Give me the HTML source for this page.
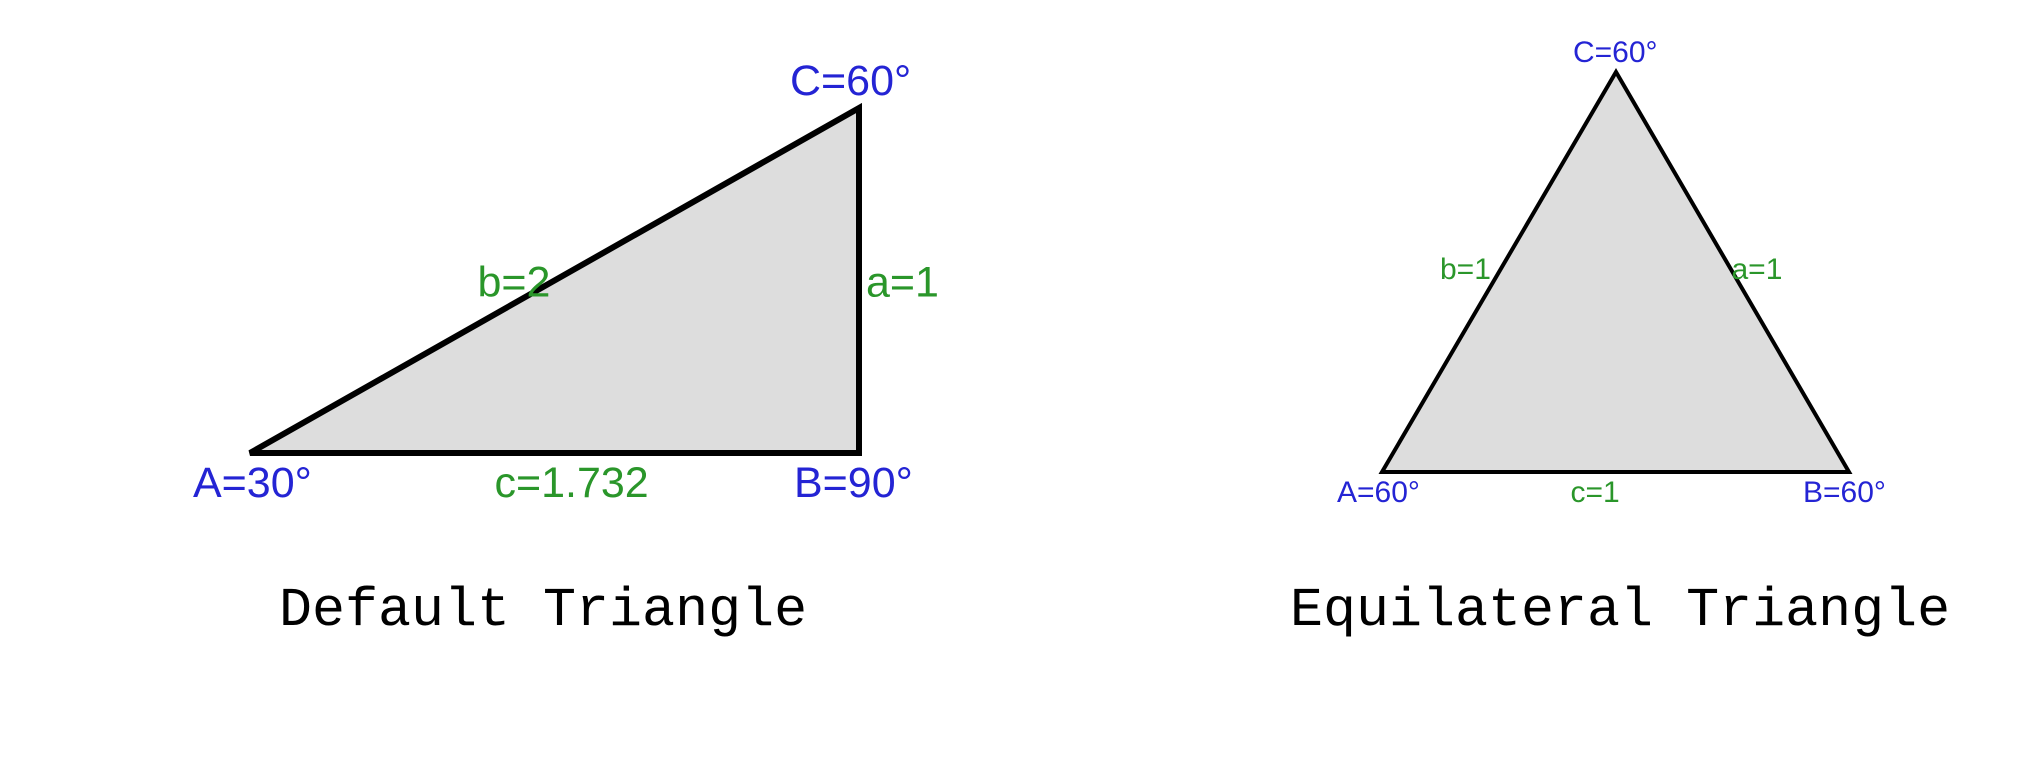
<!DOCTYPE html>
<html><head><meta charset="utf-8"><style>
html,body{margin:0;padding:0;background:#fff;}
svg{display:block;}
</style></head><body>
<svg id="chart" width="2041" height="764" xmlns="http://www.w3.org/2000/svg"></svg>
<script>
// Default triangle vertices (A, B, C) in pixels
const defaultVertices = [[250,453],[859,453],[859,108]];
const defaultAngleLabels = ["A=30°","B=90°","C=60°"];
const defaultSideLabels = ["a=1","b=2","c=1.732"];
// Equilateral triangle vertices (A, B, C)
const equiVertices = [[1382,472],[1849,472],[1616,72]];
const equiAngleLabels = ["A=60°","B=60°","C=60°"];
const equiSideLabels = ["a=1","b=1","c=1"];
const titles = ["Default Triangle","Equilateral Triangle"];

const NS="http://www.w3.org/2000/svg";
const svg=document.getElementById('chart');
function mk(tag,attrs){const e=document.createElementNS(NS,tag);for(const k in attrs)e.setAttribute(k,attrs[k]);svg.appendChild(e);return e;}
function txt(x,y,s,size,fill,family,name){
  const t=mk('text',{x:x,y:y,'font-size':size,fill:fill,'font-family':family});
  t.textContent=s;
  
  
  return t;
}
const SANS='"Liberation Sans", Arial, sans-serif';
const MONO='"Liberation Mono", "Courier New", monospace';
const BLUE='#2424d4', GREEN='#2a962a';

function drawTri(v,angles,sides,sw,fs,prefix,labelPos){
  const p=mk('polygon',{points:v.map(q=>q.join(',')).join(' '),fill:'#dddddd',stroke:'#000','stroke-width':sw,'stroke-linejoin':'miter','stroke-miterlimit':2.5});
  
  
  labelPos.forEach((lp,i)=>{
    const s = i<3 ? angles[i] : sides[i-3];
    txt(lp[0],lp[1],s,fs,i<3?BLUE:GREEN,SANS,prefix+'-label-'+s.split('=')[0].toLowerCase()+(i<3?'-angle':'-side'));
  });
}
const A=defaultVertices;
drawTri(A,defaultAngleLabels,defaultSideLabels,6,43,'default',[
  [A[0][0]-57,A[0][1]+44],[A[1][0]-65,A[1][1]+44],[A[2][0]-69,A[2][1]-13],
  [A[1][0]+7,(A[1][1]+A[2][1])/2+16],[(A[0][0]+A[2][0])/2-77,(A[0][1]+A[2][1])/2+16],[(A[0][0]+A[1][0])/2-60,A[0][1]+44]
]);
const E=equiVertices;
drawTri(E,equiAngleLabels,equiSideLabels,4,30,'equilateral',[
  [E[0][0]-45,E[0][1]+30],[E[1][0]-46,E[1][1]+30],[E[2][0]-43,E[2][1]-10],
  [(E[1][0]+E[2][0])/2-1,(E[1][1]+E[2][1])/2+7],[(E[0][0]+E[2][0])/2-59,(E[0][1]+E[2][1])/2+7],[(E[0][0]+E[1][0])/2-45,E[0][1]+30]
]);
txt(279,625,titles[0],55,'#000',MONO,'default-triangle-title');
txt(1290,625,titles[1],55,'#000',MONO,'equilateral-triangle-title');
</script>
</body></html>
